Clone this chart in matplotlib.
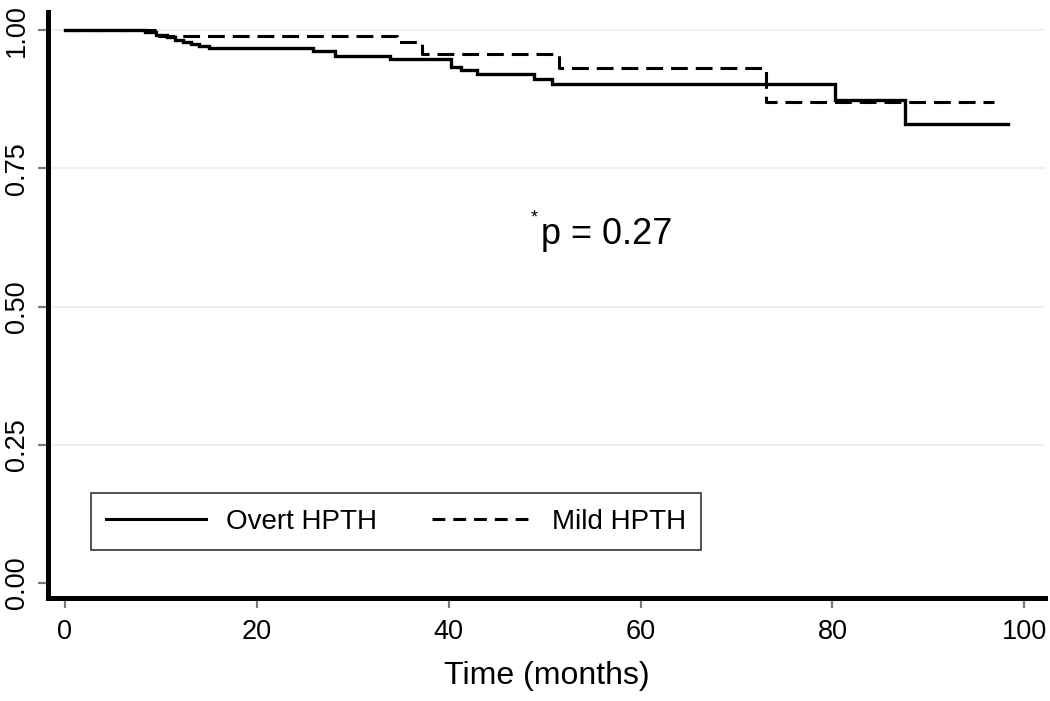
"""Kaplan-Meier style survival curves: Overt vs Mild HPTH (Stata-like look)."""

import matplotlib
matplotlib.use("Agg")
import matplotlib.pyplot as plt
from matplotlib.lines import Line2D

plt.rcParams.update({
    "font.family": ["Liberation Sans", "DejaVu Sans"],
})

# ─── data ───────────────────────────────────────────────────────────
overt_t = [0, 8.3, 9.5, 10.6, 11.5, 12.3, 13.1, 14.0, 15.0, 25.9, 28.2,
           33.9, 40.2, 41.3, 43.0, 48.9, 50.8, 80.3, 87.6, 98.3]
overt_s = [1.000, 0.996, 0.992, 0.988, 0.983, 0.979, 0.975, 0.971, 0.967,
           0.963, 0.953, 0.947, 0.934, 0.928, 0.920, 0.911, 0.902, 0.873,
           0.831, 0.831]

mild_t = [0, 9.6, 34.6, 37.2, 51.5, 73.1, 96.8]
mild_s = [1.000, 0.990, 0.978, 0.956, 0.931, 0.870, 0.870]

xticks = [0, 20, 40, 60, 80, 100]
yticks = [0.00, 0.25, 0.50, 0.75, 1.00]
ytick_labels = ["0.00", "0.25", "0.50", "0.75", "1.00"]

GRID = "#e6eff1"
TICK = "#7a7a7a"

fig = plt.figure(figsize=(10.5, 7.01), dpi=100)
ax = fig.add_axes([0.0457, 0.147, 0.95, 0.836])

for y in yticks[1:]:
    ax.axhline(y, color=GRID, lw=1.2, zorder=0)

ax.step(overt_t, overt_s, where="post", color="black", lw=2.4,
        solid_joinstyle="miter", zorder=3)
ax.step(mild_t, mild_s, where="post", color="black", lw=2.2,
        linestyle=(0, (5.5, 2.6)), zorder=2)

ax.set_xlim(-1.76, 102.2)
ax.set_ylim(-0.027, 1.033)
ax.set_xticks(xticks)
ax.set_yticks(yticks)
ax.set_yticklabels(ytick_labels, rotation=90, va="center")
ax.tick_params(axis="both", which="major", direction="out", length=7,
               width=1.6, color=TICK, labelsize=19.5, pad=6)
ax.tick_params(axis="x", pad=8)

for side in ("top", "right"):
    ax.spines[side].set_visible(False)
for side in ("left", "bottom"):
    ax.spines[side].set_linewidth(3.6)
    ax.spines[side].set_color("black")

ax.set_xlabel("Time (months)", fontsize=23, labelpad=12)

# p-value annotation
ax.text(56.5, 0.63, "p = 0.27", fontsize=26, ha="center", va="center")
ax.text(48.9, 0.66, "*", fontsize=13, ha="center", va="center")

handles = [
    Line2D([], [], color="black", lw=2.2),
    Line2D([], [], color="black", lw=2.2, linestyle=(0, (4.2, 2.6))),
]
leg = ax.legend(handles, ["Overt HPTH", "Mild HPTH"], ncol=2,
                loc="lower left", bbox_to_anchor=(0.043, 0.082),
                fontsize=20, frameon=True, fancybox=False, framealpha=1,
                edgecolor="#333333", handlelength=3.6, handletextpad=0.7,
                columnspacing=2.0, borderpad=0.55, borderaxespad=0)
leg.get_frame().set_linewidth(1.2)

fig.savefig("out.png", dpi=100, facecolor="white")
